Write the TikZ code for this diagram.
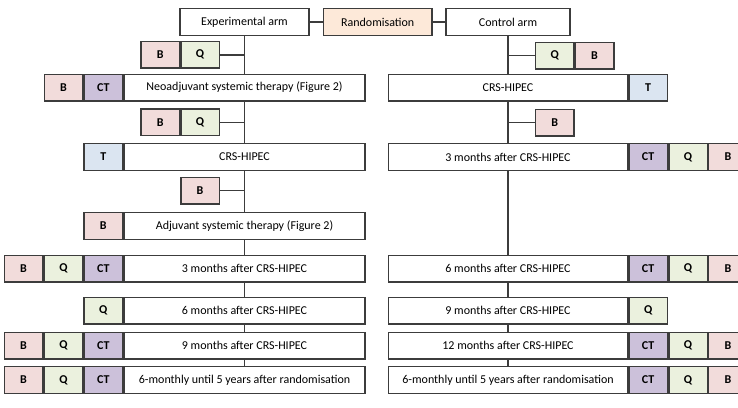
\documentclass[tikz,border=0pt]{standalone}
\usepackage{fontspec}
\setmainfont{Carlito}
\definecolor{lc}{HTML}{3C3C3C}
\definecolor{cB}{HTML}{F2DCDB}
\definecolor{cQ}{HTML}{EBF1DE}
\definecolor{cCT}{HTML}{CCC1DA}
\definecolor{cT}{HTML}{DBE5F1}
\definecolor{cR}{HTML}{FDE9D9}
\tikzset{
  bx/.style={draw=lc, line width=1.4pt, inner sep=0pt, minimum height=26.6pt,
    font=\fontsize{12}{14}\selectfont, text=black},
  tb/.style={bx, fill=white},
  ltb/.style={tb, minimum width=241pt},
  rtb/.style={tb, minimum width=239pt},
  sb/.style={bx, minimum width=38.5pt, font=\fontsize{12}{14}\selectfont\bfseries},
  sB/.style={sb, fill=cB},
  sQ/.style={sb, fill=cQ},
  sCT/.style={sb, fill=cCT},
  sT/.style={sb, fill=cT},
  link/.style={draw=lc, line width=1.4pt},
}
\begin{document}
\begin{tikzpicture}[x=1pt,y=-1pt]
\useasboundingbox (0,0) rectangle (738,407);
\clip (0,0) rectangle (738,407);
% top row
\node[tb, minimum width=129pt] (exp) at (244.5,22) {Experimental arm};
\node[bx, fill=cR, minimum width=108.7pt] (rand) at (377.7,22) {Randomisation};
\node[tb, minimum width=124pt] (ctrl) at (508,22) {Control arm};
\draw[link] (exp) -- (rand);
\draw[link] (rand) -- (ctrl);

% ---------- left column ----------
\node[ltb] (L2) at (244.5,87.5) {Neoadjuvant systemic therapy (Figure 2)};
\node[sCT, anchor=east] (L2a) at (L2.west) {CT};
\node[sB, anchor=east] (L2b) at (L2a.west) {B};

\node[ltb] (L4) at (244.5,157) {CRS-HIPEC};
\node[sT, anchor=east] (L4a) at (L4.west) {T};

\node[ltb] (L6) at (244.5,226) {Adjuvant systemic therapy (Figure 2)};
\node[sB, anchor=east] (L6a) at (L6.west) {B};

\node[ltb] (L7) at (244.5,268.5) {3 months after CRS-HIPEC};
\node[sCT, anchor=east] (L7a) at (L7.west) {CT};
\node[sQ, anchor=east] (L7b) at (L7a.west) {Q};
\node[sB, anchor=east] (L7c) at (L7b.west) {B};

\node[ltb] (L8) at (244.5,310.5) {6 months after CRS-HIPEC};
\node[sQ, anchor=east] (L8a) at (L8.west) {Q};

\node[ltb] (L9) at (244.5,345.7) {9 months after CRS-HIPEC};
\node[sCT, anchor=east] (L9a) at (L9.west) {CT};
\node[sQ, anchor=east] (L9b) at (L9a.west) {Q};
\node[sB, anchor=east] (L9c) at (L9b.west) {B};

\node[ltb] (L10) at (244.5,380) {6-monthly until 5 years after randomisation};
\node[sCT, anchor=east] (L10a) at (L10.west) {CT};
\node[sQ, anchor=east] (L10b) at (L10a.west) {Q};
\node[sB, anchor=east] (L10c) at (L10b.west) {B};

% left small boxes
\node[sQ, anchor=east] (L1q) at (220,54.8) {Q};
\node[sB, anchor=east] (L1b) at (L1q.west) {B};
\node[sQ, anchor=east] (L3q) at (220,122.2) {Q};
\node[sB, anchor=east] (L3b) at (L3q.west) {B};
\node[sB, anchor=east] (L5b) at (220,190.7) {B};

% left trunk
\draw[link] (exp.south) -- (L2.north);
\draw[link] (L2.south) -- (L4.north);
\draw[link] (L4.south) -- (L6.north);
\draw[link] (L6.south) -- (L7.north);
\draw[link] (L7.south) -- (L8.north);
\draw[link] (L8.south) -- (L9.north);
\draw[link] (L9.south) -- (L10.north);
\draw[link] (L1q.east) -- (L1q.east -| exp.south);
\draw[link] (L3q.east) -- (L3q.east -| exp.south);
\draw[link] (L5b.east) -- (L5b.east -| exp.south);

% ---------- right column ----------
\node[rtb] (R2) at (508,87.5) {CRS-HIPEC};
\node[sT, anchor=west] (R2a) at (R2.east) {T};

\node[rtb] (R4) at (508,157) {3 months after CRS-HIPEC};
\node[sCT, anchor=west] (R4a) at (R4.east) {CT};
\node[sQ, anchor=west] (R4b) at (R4a.east) {Q};
\node[sB, anchor=west] (R4c) at (R4b.east) {B};

\node[rtb] (R7) at (508,268.5) {6 months after CRS-HIPEC};
\node[sCT, anchor=west] (R7a) at (R7.east) {CT};
\node[sQ, anchor=west] (R7b) at (R7a.east) {Q};
\node[sB, anchor=west] (R7c) at (R7b.east) {B};

\node[rtb] (R8) at (508,310.5) {9 months after CRS-HIPEC};
\node[sQ, anchor=west] (R8a) at (R8.east) {Q};

\node[rtb] (R9) at (508,345.7) {12 months after CRS-HIPEC};
\node[sCT, anchor=west] (R9a) at (R9.east) {CT};
\node[sQ, anchor=west] (R9b) at (R9a.east) {Q};
\node[sB, anchor=west] (R9c) at (R9b.east) {B};

\node[rtb] (R10) at (508,380) {6-monthly until 5 years after randomisation};
\node[sCT, anchor=west] (R10a) at (R10.east) {CT};
\node[sQ, anchor=west] (R10b) at (R10a.east) {Q};
\node[sB, anchor=west] (R10c) at (R10b.east) {B};

% right small boxes
\node[sQ, anchor=west] (R1q) at (534.7,55.6) {Q};
\node[sB, anchor=west] (R1b) at (R1q.east) {B};
\node[sB, anchor=west] (R3b) at (534.7,122.5) {B};

% right trunk
\draw[link] (ctrl.south) -- (R2.north);
\draw[link] (R2.south) -- (R4.north);
\draw[link] (R4.south) -- (R7.north);
\draw[link] (R7.south) -- (R8.north);
\draw[link] (R8.south) -- (R9.north);
\draw[link] (R9.south) -- (R10.north);
\draw[link] (R1q.west) -- (R1q.west -| ctrl.south);
\draw[link] (R3b.west) -- (R3b.west -| ctrl.south);
\end{tikzpicture}
\end{document}
